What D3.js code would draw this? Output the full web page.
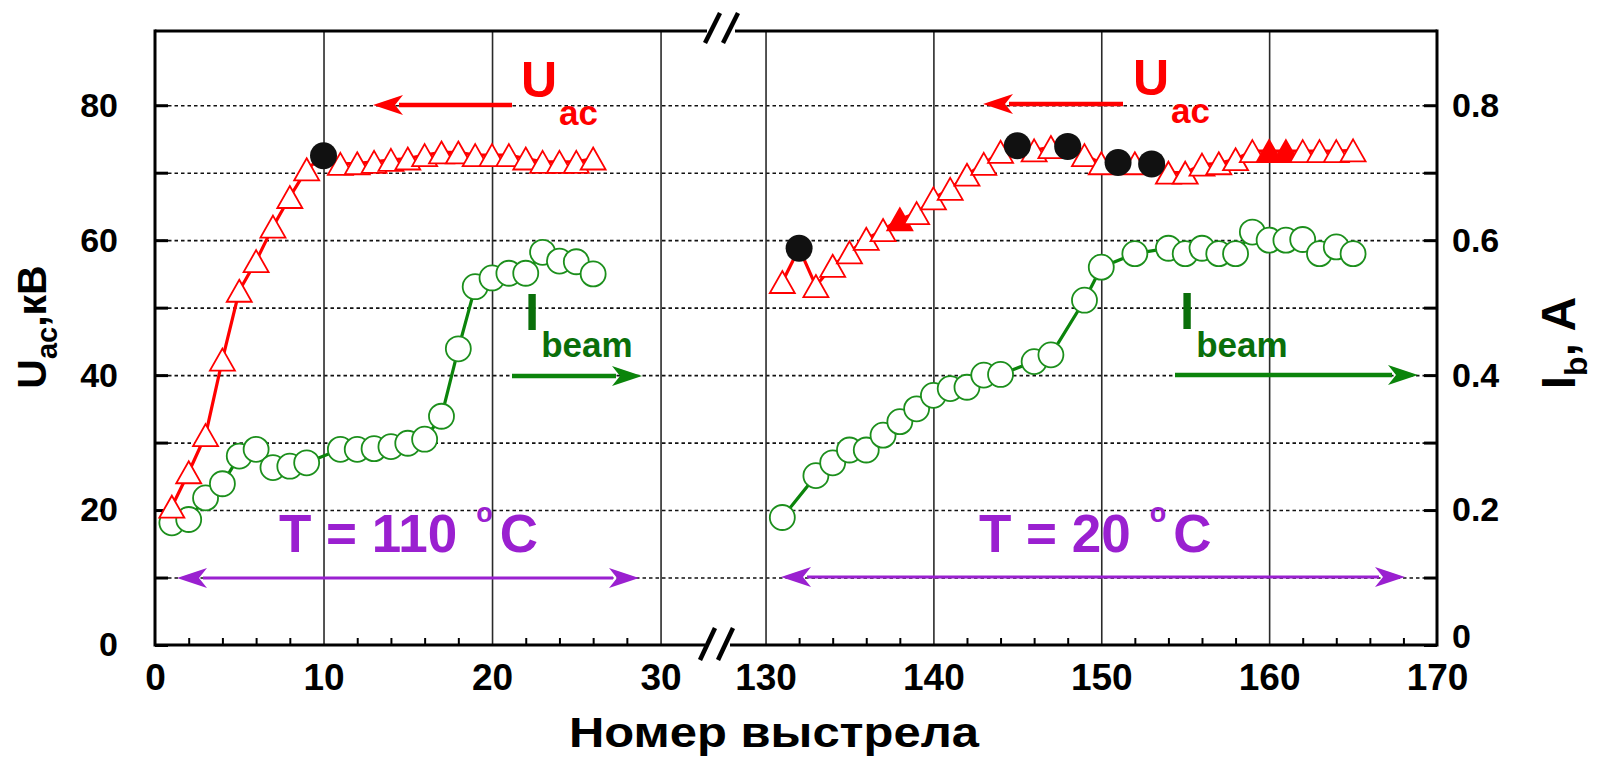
<!DOCTYPE html>
<html>
<head>
<meta charset="utf-8">
<script src="https://cdn.jsdelivr.net/npm/d3@7"></script>
<style>
  body { margin: 0; background: #fff; }
  svg text { font-family: "Liberation Sans", Arial, Helvetica, sans-serif; font-weight: bold; }
</style>
</head>
<body>
<svg id="chart" width="1600" height="761"></svg>
<script>
// ---- data: shot numbers, accelerating voltage (kV) and beam current (A) ----
const shotsLeft = d3.range(1, 27);
const uacLeft = [20.5, 25.6, 31.1, 42.3, 52.5, 56.9, 62.0, 66.4, 70.5, 72.5,
                 71.3, 71.4, 71.6, 71.9, 72.1, 72.6, 73.0, 73.0, 72.6, 72.6,
                 72.6, 72.1, 71.6, 71.6, 71.6, 72.1];
const ibShotsLeft = [1, 2, 3, 4, 5, 6, 7, 8, 9, 11, 12, 13, 14, 15, 16, 17, 18,
                     19, 20, 21, 22, 23, 24, 25, 26];
const ibLeft = [0.181, 0.186, 0.218, 0.239, 0.280, 0.290, 0.263, 0.265, 0.270,
                0.290, 0.290, 0.291, 0.294, 0.299, 0.305, 0.339, 0.439, 0.531,
                0.544, 0.551, 0.551, 0.582, 0.569, 0.568, 0.550];

const shotsRight = d3.range(131, 166);
const uacRight = [53.8, 58.8, 53.2, 56.2, 58.2, 60.2, 61.5, 63.1, 64.0, 66.2,
                  67.6, 69.7, 71.3, 73.1, 74.0, 73.3, 73.8, 73.9, 72.6, 71.4,
                  71.5, 71.4, 71.3, 70.0, 70.0, 71.2, 71.4, 72.0, 73.2, 73.2,
                  73.2, 73.2, 73.2, 73.2, 73.3];
const ibShotsRight = [131, 133, 134, 135, 136, 137, 138, 139, 140, 141, 142, 143,
                      144, 146, 147, 149, 150, 152, 154, 155, 156, 157, 158, 159,
                      160, 161, 162, 163, 164, 165];
const ibRight = [0.189, 0.251, 0.270, 0.289, 0.289, 0.311, 0.331, 0.350, 0.370,
                 0.380, 0.382, 0.400, 0.401, 0.420, 0.430, 0.511, 0.560, 0.580,
                 0.588, 0.580, 0.588, 0.580, 0.580, 0.612, 0.600, 0.600, 0.601,
                 0.580, 0.590, 0.580];

// shots with breakdown (black dots) and highlighted shots (filled triangles)
const breakdownShots = [10, 132, 145, 148, 151, 153];
const filledShots = [138, 160, 161];

// axis ticks
const uTicks = [0, 20, 40, 60, 80];
const iTicks = [0, 0.2, 0.4, 0.6, 0.8];
const xTicks = [0, 10, 20, 30, 130, 140, 150, 160, 170];
const xGridTicks = [10, 20, 30, 130, 140, 150, 160];
const xMinorTicks = [2, 4, 6, 8, 12, 14, 16, 18, 22, 24, 26, 28,
                     132, 134, 136, 138, 142, 144, 146, 148, 152, 154, 156, 158,
                     162, 164, 166, 168];
const gridValues = [10, 20, 30, 40, 50, 60, 70, 80];

// ---- layout ----
const plotL = 155, plotR = 1437, plotT = 31, plotB = 645;
const RED = "#ff0000", GREEN = "#0b840b", TXTGREEN = "#0a6f0a", PURPLE = "#9a20d0";

const svg = d3.select("#chart");
svg.append("rect").attr("width", 1600).attr("height", 761).attr("fill", "#fff");

// broken x axis: 0..32.4 and 128.3..170
const x = d3.scaleLinear().domain([0, 32.4, 128.3, 170]).range([plotL, 701, 737, plotR]);
const yU = d3.scaleLinear().domain([0, 91]).range([plotB, plotT]);
const yI = d3.scaleLinear().domain([0, 0.91]).range([plotB, plotT]);

// dotted horizontal grid
svg.append("g")
  .attr("transform", `translate(${plotL},0)`)
  .call(d3.axisLeft(yU).tickValues(gridValues).tickSize(-(plotR - plotL)).tickFormat(""))
  .call(g => g.select(".domain").remove())
  .selectAll("line")
  .attr("stroke", "#111").attr("stroke-width", 1.6).attr("stroke-dasharray", "3.5,3");

// solid vertical grid
svg.append("g")
  .attr("transform", `translate(0,${plotB})`)
  .call(d3.axisBottom(x).tickValues(xGridTicks).tickSize(-(plotB - plotT)).tickFormat(""))
  .call(g => g.select(".domain").remove())
  .selectAll("line")
  .attr("stroke", "#2a2a2a").attr("stroke-width", 1.6);

// inward ticks on both y axes
svg.append("g")
  .attr("transform", `translate(${plotL},0)`)
  .call(d3.axisRight(yU).tickValues(gridValues.concat([0])).tickSize(13).tickFormat(""))
  .call(g => g.select(".domain").remove())
  .selectAll("line").attr("stroke", "#000").attr("stroke-width", 3);
svg.append("g")
  .attr("transform", `translate(${plotR},0)`)
  .call(d3.axisLeft(yU).tickValues(gridValues.concat([0])).tickSize(13).tickFormat(""))
  .call(g => g.select(".domain").remove())
  .selectAll("line").attr("stroke", "#000").attr("stroke-width", 3);

// minor ticks on the bottom axis
svg.append("g")
  .attr("transform", `translate(0,${plotB})`)
  .call(d3.axisTop(x).tickValues(xMinorTicks).tickSize(7).tickFormat(""))
  .call(g => g.select(".domain").remove())
  .selectAll("line").attr("stroke", "#000").attr("stroke-width", 2);

// frame with the axis break
const frame = svg.append("g").attr("stroke", "#000").attr("stroke-width", 3).attr("fill", "none");
frame.append("line").attr("x1", plotL).attr("x2", plotL).attr("y1", plotT - 1.5).attr("y2", plotB + 1.5);
frame.append("line").attr("x1", plotR).attr("x2", plotR).attr("y1", plotT - 1.5).attr("y2", plotB + 1.5);
frame.append("line").attr("x1", plotL).attr("x2", 707).attr("y1", plotT).attr("y2", plotT);
frame.append("line").attr("x1", 735).attr("x2", plotR).attr("y1", plotT).attr("y2", plotT);
frame.append("line").attr("x1", plotL).attr("x2", 705).attr("y1", plotB).attr("y2", plotB);
frame.append("line").attr("x1", 730).attr("x2", plotR).attr("y1", plotB).attr("y2", plotB);
const slashes = [
  [705, 43, 720, 13], [723, 43, 738, 13],
  [700, 660, 715, 628], [718, 660, 733, 628]
];
frame.selectAll("line.slash").data(slashes).join("line")
  .attr("class", "slash")
  .attr("x1", d => d[0]).attr("y1", d => d[1]).attr("x2", d => d[2]).attr("y2", d => d[3])
  .attr("stroke-width", 4.5);

// tick labels
const tickFont = g => g.selectAll("text")
  .attr("fill", "#000").style("font-family", '"Liberation Sans", Arial, sans-serif')
  .style("font-weight", "bold");
svg.append("g")
  .attr("transform", `translate(${plotL},0)`)
  .call(d3.axisLeft(yU).tickValues(uTicks).tickSize(0).tickPadding(37).tickFormat(d3.format("d")))
  .call(g => g.select(".domain").remove())
  .call(tickFont)
  .selectAll("text").style("font-size", "34px");
svg.append("g")
  .attr("transform", `translate(${plotR},0)`)
  .call(d3.axisRight(yI).tickValues(iTicks).tickSize(0).tickPadding(15).tickFormat(d => d === 0 ? "0" : d3.format(".1f")(d)))
  .call(g => g.select(".domain").remove())
  .call(tickFont)
  .selectAll("text").style("font-size", "34px")
  .filter(d => d === 0).attr("y", -8);
svg.append("g")
  .attr("transform", `translate(0,${plotB})`)
  .call(d3.axisBottom(x).tickValues(xTicks).tickSize(0).tickPadding(19).tickFormat(d3.format("d")))
  .call(g => g.select(".domain").remove())
  .call(tickFont)
  .selectAll("text").style("font-size", "37px");

// ---- series ----
const uLeftPts = shotsLeft.map((s, i) => ({ s, v: uacLeft[i] }));
const uRightPts = shotsRight.map((s, i) => ({ s, v: uacRight[i] }));
const iLeftPts = ibShotsLeft.map((s, i) => ({ s, v: ibLeft[i] }));
const iRightPts = ibShotsRight.map((s, i) => ({ s, v: ibRight[i] }));

const uLine = d3.line().x(d => x(d.s)).y(d => yU(d.v));
const iLine = d3.line().x(d => x(d.s)).y(d => yI(d.v));

[uLeftPts, uRightPts].forEach(pts => svg.append("path").datum(pts)
  .attr("d", uLine).attr("fill", "none").attr("stroke", RED).attr("stroke-width", 3.2));
[iLeftPts, iRightPts].forEach(pts => svg.append("path").datum(pts)
  .attr("d", iLine).attr("fill", "none").attr("stroke", GREEN).attr("stroke-width", 3.2));

// open circles for beam current
svg.append("g").selectAll("circle")
  .data(iLeftPts.concat(iRightPts)).join("circle")
  .attr("cx", d => x(d.s)).attr("cy", d => yI(d.v)).attr("r", 12.5)
  .attr("fill", "#fff").attr("stroke", "#1c8f1c").attr("stroke-width", 1.8);

// triangles for accelerating voltage
const triW = 25, triH = 22;
const triPath = `M0,${-triH / 2}L${triW / 2},${triH / 2}L${-triW / 2},${triH / 2}Z`;
const uPts = uLeftPts.concat(uRightPts);
svg.append("g").selectAll("path")
  .data(uPts.filter(d => !breakdownShots.includes(d.s))).join("path")
  .attr("d", triPath)
  .attr("transform", d => `translate(${x(d.s)},${yU(d.v)})`)
  .attr("fill", d => filledShots.includes(d.s) ? RED : "#fff")
  .attr("stroke", RED).attr("stroke-width", 1.8);

// breakdown shots
svg.append("g").selectAll("circle")
  .data(uPts.filter(d => breakdownShots.includes(d.s))).join("circle")
  .attr("cx", d => x(d.s)).attr("cy", d => yU(d.v)).attr("r", 13.5)
  .attr("fill", "#111");

// ---- annotations ----
function arrow(x1, x2, y, color, width, both) {
  const g = svg.append("g");
  const dir = Math.sign(x2 - x1);
  const len = 30, half = 10;
  g.append("line")
    .attr("x1", both ? x1 + dir * (len - 4) : x1).attr("x2", x2 - dir * (len - 4))
    .attr("y1", y).attr("y2", y)
    .attr("stroke", color).attr("stroke-width", width);
  const head = (tip, d) => `M${tip},${y}L${tip - d * len},${y - half}L${tip - d * (len - 8)},${y}L${tip - d * len},${y + half}Z`;
  g.append("path").attr("d", head(x2, dir)).attr("fill", color);
  if (both) g.append("path").attr("d", head(x1, -dir)).attr("fill", color);
}

arrow(512, 373, 105, RED, 4.5, false);
arrow(1123, 983, 104, RED, 4.5, false);
arrow(512, 642, 376, GREEN, 4.5, false);
arrow(1175, 1418, 375, GREEN, 4.5, false);
arrow(177, 639, 578, PURPLE, 3.2, true);
arrow(781, 1405, 577, PURPLE, 3.2, true);

function subLabel(xp, yp, main, sub, color, mainSize, subSize, drop) {
  const t = svg.append("text").attr("x", xp).attr("y", yp).attr("fill", color);
  t.append("tspan").text(main).style("font-size", mainSize + "px");
  t.append("tspan").text(sub).style("font-size", subSize + "px").attr("dx", 2).attr("dy", drop);
}
subLabel(521, 97, "U", "ac", RED, 50, 35, 28);
subLabel(1133, 95, "U", "ac", RED, 50, 35, 28);
subLabel(525, 330, "I", "beam", TXTGREEN, 51, 35, 27);
subLabel(1180, 329, "I", "beam", TXTGREEN, 51, 35, 28);

function tempLabel(xp, yp, main) {
  const t = svg.append("text").attr("x", xp).attr("y", yp).attr("fill", PURPLE);
  t.append("tspan").text(main).style("font-size", "53px");
  t.append("tspan").text("o").style("font-size", "27px").attr("dx", 19).attr("dy", -30);
  t.append("tspan").text("C").style("font-size", "53px").attr("dx", 7).attr("dy", 30);
}
tempLabel(279, 552, "T = 110");
tempLabel(979, 552, "T = 20");

// axis titles
const yTitle = svg.append("text")
  .attr("transform", "translate(46,327) rotate(-90)")
  .attr("text-anchor", "middle").attr("fill", "#000");
yTitle.append("tspan").text("U").style("font-size", "41px");
yTitle.append("tspan").text("ac").style("font-size", "29px").attr("dy", 11);
yTitle.append("tspan").text(",кВ").style("font-size", "41px").attr("dy", -11);

const yTitleR = svg.append("text")
  .attr("transform", "translate(1575,343) rotate(-90)")
  .attr("text-anchor", "middle").attr("fill", "#000");
yTitleR.append("tspan").text("I").style("font-size", "48px");
yTitleR.append("tspan").text("b").style("font-size", "32px").attr("dy", 12);
yTitleR.append("tspan").text(", A").style("font-size", "48px").attr("dy", -12);

svg.append("text")
  .attr("x", 774).attr("y", 747).attr("text-anchor", "middle")
  .attr("fill", "#000").style("font-size", "42px")
  .attr("textLength", 410).attr("lengthAdjust", "spacingAndGlyphs")
  .text("Номер выстрела");
</script>
</body>
</html>
